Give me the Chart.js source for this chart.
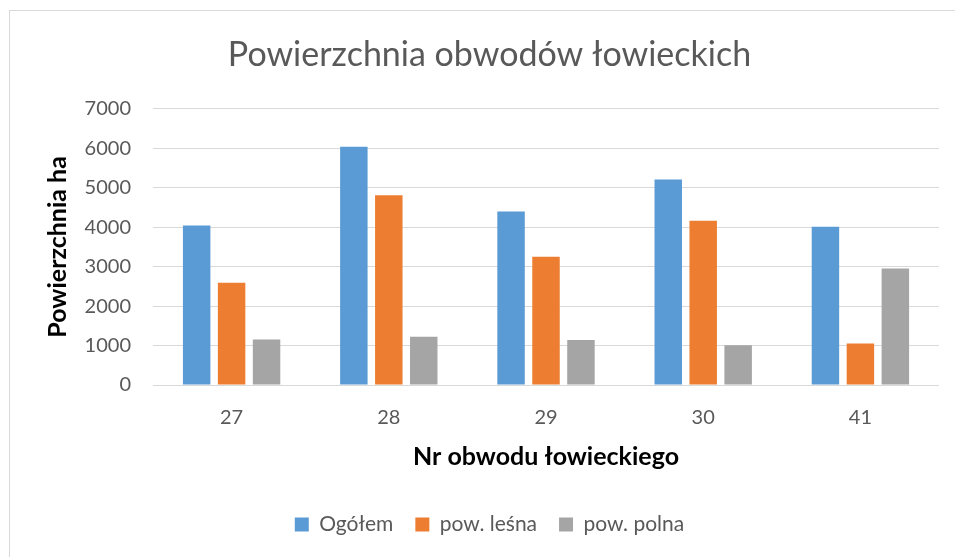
<!DOCTYPE html>
<html>
<head>
<meta charset="utf-8">
<script src="https://cdn.jsdelivr.net/npm/chart.js@4"></script>
<style>
  html, body { margin: 0; padding: 0; background: #fff; }
  #wrap { position: relative; width: 955px; height: 557px; overflow: hidden; }
  #frame { position: absolute; left: 9px; top: 10px; width: 980px; height: 600px; border: 1px solid #d9d9d9; box-sizing: border-box; }
  #chart { position: absolute; left: 0; top: 0; }
</style>
</head>
<body>
<div id="wrap">
  <div id="frame"></div>
  <canvas id="chart" width="955" height="557"></canvas>
</div>
<script>
// obwody łowieckie
const categories = ["27", "28", "29", "30", "41"];
const ogolem = [4040, 6040, 4400, 5210, 4010];
const lesna = [2590, 4810, 3250, 4160, 1050];
const polna = [1150, 1220, 1140, 1010, 2950];

const FONT = "Lato, 'Open Sans', sans-serif";
const GREY_TEXT = "#595959";

const ctx = document.getElementById("chart").getContext("2d");

new Chart(ctx, {
  type: "bar",
  data: {
    labels: categories,
    datasets: [
      { label: "Ogółem", data: ogolem, backgroundColor: "#5b9bd5" },
      { label: "pow. leśna", data: lesna, backgroundColor: "#ed7d31" },
      { label: "pow. polna", data: polna, backgroundColor: "#a5a5a5" },
    ],
  },
  options: {
    responsive: false,
    animation: false,
    layout: { padding: { left: 40, right: 16, top: 0, bottom: 12 } },
    datasets: {
      bar: { categoryPercentage: 0.667, barPercentage: 0.786 },
    },
    plugins: {
      title: {
        display: true,
        text: "Powierzchnia obwodów łowieckich",
        color: GREY_TEXT,
        font: { family: FONT, size: 34, weight: "normal" },
        padding: { top: 35, bottom: 33 },
      },
      legend: {
        position: "bottom",
        labels: {
          color: GREY_TEXT,
          font: { family: FONT, size: 21 },
          boxWidth: 14,
          boxHeight: 14,
          padding: 22,
        },
      },
      tooltip: { enabled: false },
    },
    scales: {
      x: {
        grid: { display: false, drawTicks: false },
        border: { display: false },
        ticks: { color: GREY_TEXT, font: { family: FONT, size: 20 }, padding: 21 },
        title: {
          display: true,
          text: "Nr obwodu łowieckiego",
          color: "#000",
          font: { family: FONT, size: 25, weight: "bold" },
          padding: { top: 0, bottom: 20 },
        },
        afterFit: (scale) => { scale.height = 107; },
      },
      y: {
        min: 0,
        max: 7000,
        grid: { color: "#d9d9d9", lineWidth: 1, drawTicks: false },
        border: { display: false },
        ticks: {
          stepSize: 1000,
          color: GREY_TEXT,
          font: { family: FONT, size: 20 },
          padding: 22,
          callback: (v) => String(v),
        },
        title: {
          display: true,
          text: "Powierzchnia ha",
          color: "#000",
          font: { family: FONT, size: 25, weight: "bold" },
          padding: { top: 3, bottom: 0 },
        },
        afterFit: (scale) => { scale.width = 113; },
      },
    },
  },
});
</script>
</body>
</html>
